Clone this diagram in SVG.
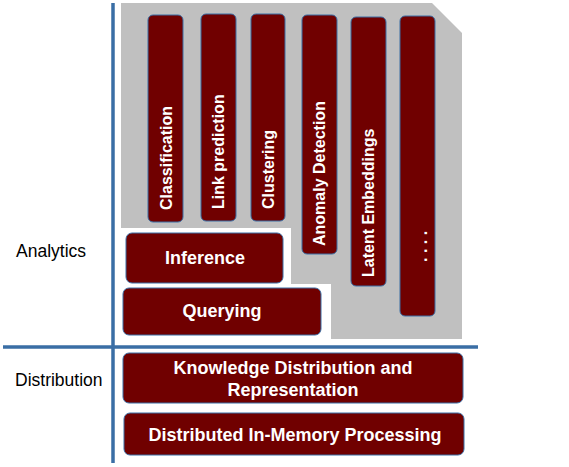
<svg xmlns="http://www.w3.org/2000/svg" width="569" height="467" viewBox="0 0 569 467">
<style>
.box{fill:#700000;stroke:#3A6EA5;stroke-width:1}
.bt{font-family:"Liberation Sans",Arial,sans-serif;font-weight:bold;font-size:18px;fill:#fff;text-anchor:middle}
.vt{font-family:"Liberation Sans",Arial,sans-serif;font-weight:bold;font-size:16px;fill:#fff}
.lbl{font-family:"Liberation Sans",Arial,sans-serif;font-size:17.5px;fill:#000}
.axis{stroke:#3A6EA5;stroke-width:3.5;fill:none}
</style>
<rect width="569" height="467" fill="#fff"/>
<polygon id="analytics-area" points="121,3 432,3 462,33 462,339 331,339 331,284 291,284 291,228 121,228" fill="#C0C0C0"/>
<g id="axes">
<line class="axis" x1="113" y1="3" x2="113" y2="463"/>
<line class="axis" x1="3" y1="347" x2="478" y2="347"/>
</g>
<g id="label-analytics"><text class="lbl" x="16" y="257">Analytics</text></g>
<g id="label-distribution"><text class="lbl" x="15" y="386">Distribution</text></g>
<g id="classification"><rect class="box" x="148" y="15" width="35" height="207" rx="5"/><text class="vt" transform="translate(172,210) rotate(-90)">Classification</text></g>
<g id="link-prediction"><rect class="box" x="201" y="14" width="35" height="207" rx="5"/><text class="vt" transform="translate(224,209) rotate(-90)">Link prediction</text></g>
<g id="clustering"><rect class="box" x="251" y="14" width="34" height="207" rx="5"/><text class="vt" transform="translate(274,209) rotate(-90)">Clustering</text></g>
<g id="anomaly-detection"><rect class="box" x="302" y="15" width="35" height="239" rx="5"/><text class="vt" transform="translate(325,246) rotate(-90)">Anomaly Detection</text></g>
<g id="latent-embeddings"><rect class="box" x="351" y="17" width="35" height="269" rx="5"/><text class="vt" transform="translate(374,277) rotate(-90)">Latent Embeddings</text></g>
<g id="more"><rect class="box" x="400" y="16" width="35" height="300" rx="5"/><text class="vt" transform="translate(427,262) rotate(-90)">. . . .</text></g>
<g id="inference"><rect class="box" x="126" y="233" width="157" height="50" rx="6"/><text class="bt" x="205" y="264">Inference</text></g>
<g id="querying"><rect class="box" x="123" y="288" width="198" height="47" rx="6"/><text class="bt" x="222" y="317">Querying</text></g>
<g id="knowledge-distribution"><rect class="box" x="123" y="353" width="340" height="50" rx="6"/><text class="bt" x="293" y="374">Knowledge Distribution and</text><text class="bt" x="293" y="396">Representation</text></g>
<g id="in-memory-processing"><rect class="box" x="124" y="413" width="340" height="42" rx="6"/><text class="bt" x="295" y="441">Distributed In-Memory Processing</text></g>
</svg>
